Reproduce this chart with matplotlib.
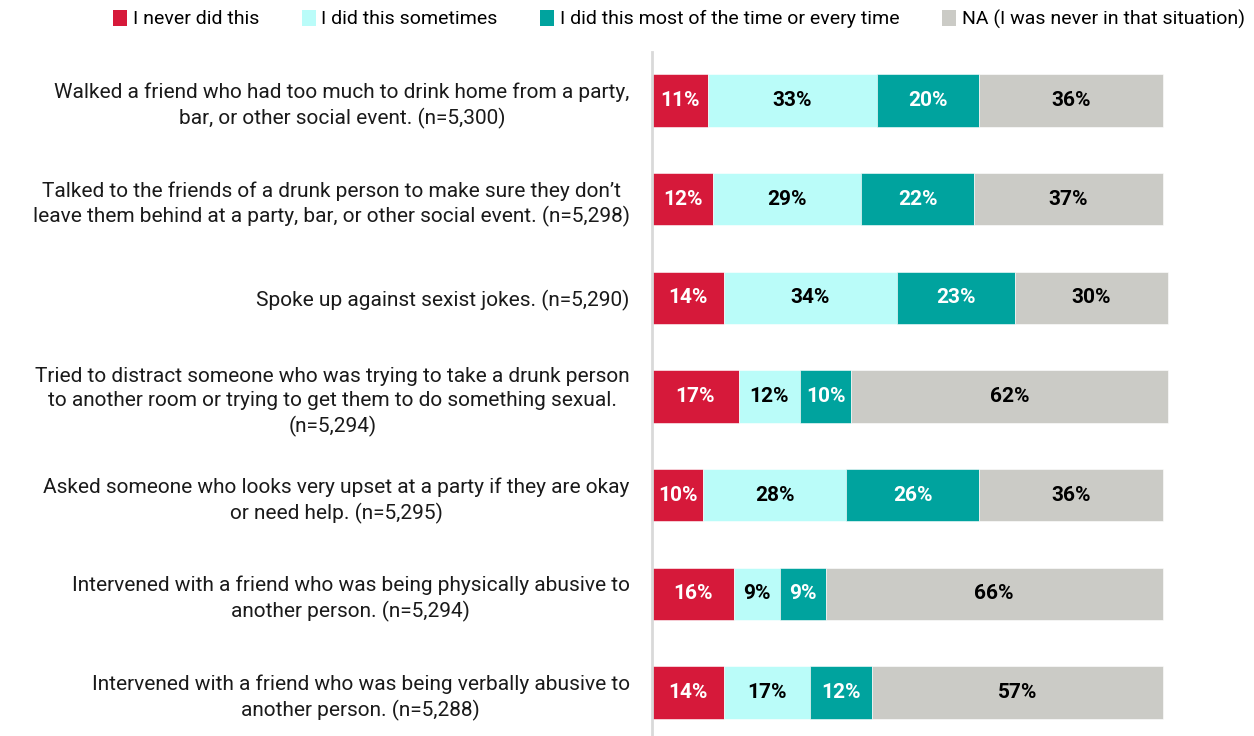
import matplotlib.pyplot as plt
import numpy as np
from matplotlib.patches import Patch

plt.rcParams["font.family"] = ["Roboto", "DejaVu Sans"]

questions = [
    "Walked a friend who had too much to drink home from a party,\nbar, or other social event. (n=5,300)",
    "Talked to the friends of a drunk person to make sure they don\u2019t\nleave them behind at a party, bar, or other social event. (n=5,298)",
    "Spoke up against sexist jokes. (n=5,290)",
    "Tried to distract someone who was trying to take a drunk person\nto another room or trying to get them to do something sexual.\n(n=5,294)",
    "Asked someone who looks very upset at a party if they are okay\nor need help. (n=5,295)",
    "Intervened with a friend who was being physically abusive to\nanother person. (n=5,294)",
    "Intervened with a friend who was being verbally abusive to\nanother person. (n=5,288)",
]
series_names = [
    "I never did this",
    "I did this sometimes",
    "I did this most of the time or every time",
    "NA (I was never in that situation)",
]
never = [11, 12, 14, 17, 10, 16, 14]
sometimes = [33, 29, 34, 12, 28, 9, 17]
most = [20, 22, 23, 10, 26, 9, 12]
na = [36, 37, 30, 62, 36, 66, 57]

colors = ["#D6193A", "#BAFCF9", "#00A39E", "#CBCBC6"]
text_colors = ["white", "black", "white", "black"]

fig = plt.figure(figsize=(12.54, 7.36), dpi=100)
ax = fig.add_axes([652 / 1254, 0, 521 / 1254, 684 / 736])

y = np.arange(len(questions))
left = np.zeros(len(questions))
for vals, col, tcol, name in zip([never, sometimes, most, na], colors,
                                 text_colors, series_names):
    vals = np.array(vals, dtype=float)
    ax.barh(y, vals, left=left, height=0.53, color=col, label=name,
            edgecolor="white", linewidth=0.4)
    for yi, l, v in zip(y, left, vals):
        ax.text(l + v / 2, yi, f"{v:.0f}%", ha="center", va="center",
                fontsize=15, fontweight="bold", color=tcol)
    left += vals

ax.set_xlim(0, 102)
ax.set_ylim(6.44, -0.49)
ax.set_xticks([])
ax.set_yticks(y)
ax.set_yticklabels(questions, fontsize=15, color="#1a1a1a")
for lbl in ax.get_yticklabels():
    lbl.set_multialignment("center")
    lbl.set_linespacing(1.35)
ax.tick_params(axis="y", length=0, pad=16)

for s in ["top", "right", "bottom"]:
    ax.spines[s].set_visible(False)
ax.spines["left"].set_color("#D9D9D9")
ax.spines["left"].set_linewidth(2)

handles = [Patch(facecolor=c, edgecolor="none") for c in colors]
fig.legend(handles, series_names, loc="center", ncol=4,
           bbox_to_anchor=(0.5415, 0.974), frameon=False, fontsize=14,
           handlelength=0.7, handleheight=0.9, handletextpad=0.3,
           columnspacing=2.2)

fig.savefig("out.png", dpi=100)
